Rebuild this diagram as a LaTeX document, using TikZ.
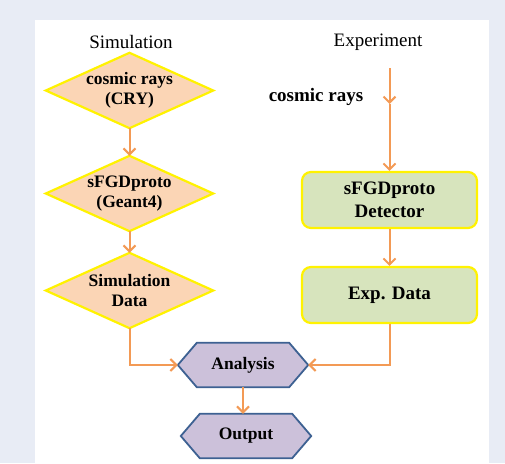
\documentclass[tikz,border=0pt]{standalone}
\usepackage{fontspec}
\setmainfont{Liberation Serif}
\usetikzlibrary{arrows.meta}
\definecolor{bgblue}{HTML}{E8ECF5}
\definecolor{peach}{HTML}{FBD5B5}
\definecolor{olivelt}{HTML}{D7E4BD}
\definecolor{lavender}{HTML}{CCC1DA}
\definecolor{hexblue}{HTML}{3D6192}
\definecolor{arrowor}{HTML}{F39A55}
\definecolor{yel}{HTML}{FFF200}
\pgfdeclarelayer{back}
\pgfdeclarelayer{bg}
\pgfsetlayers{back,bg,main}
\tikzset{
  title/.style={font=\fontsize{19}{22}\selectfont},
  dtext/.style={shape=rectangle, minimum width=167pt, minimum height=75pt, inner sep=0pt, align=center, font=\bfseries\fontsize{17.5}{20}\selectfont},
  dshape/.style={fill=peach, draw=yel, line width=2.2pt, line join=miter},
  gbox/.style={shape=rectangle, rounded corners=9pt, fill=olivelt, draw=yel, line width=2.2pt, minimum width=175pt, minimum height=56pt, inner sep=0pt, align=center, font=\bfseries\fontsize{19}{23}\selectfont},
  htext/.style={shape=rectangle, minimum width=130pt, minimum height=44pt, inner sep=0pt, font=\bfseries\fontsize{17.5}{20}\selectfont},
  hshape/.style={fill=lavender, draw=hexblue, line width=1.8pt, line join=miter},
  arr/.style={draw=arrowor, line width=2pt, -{Straight Barb[length=6pt,width=12pt]}},
}
\begin{document}
\begin{tikzpicture}[x=1pt,y=-1pt]
\useasboundingbox (0,0) rectangle (505,463);
\begin{pgfonlayer}{back}
\fill[bgblue] (0,0) rectangle (505,463);
\fill[white] (35,20) rectangle (489,463);
\end{pgfonlayer}

\node[title] (simt) at (131,42) {Simulation};
\node[title] (expt) at (378,42) {Experiment};

\node[dtext] (d1) at (129.5,90.5) {cosmic rays\\(CRY)};
\node[dtext] (d2) at (129.5,193.5) {sFGDproto\\(Geant4)};
\node[dtext] (d3) at (129.5,290.5) {Simulation\\Data};

\node[font=\bfseries\fontsize{19}{22}\selectfont] (cr) at (316,97) {cosmic rays};
\coordinate (ctop) at (389.5,68);
\coordinate (cmid) at (389.5,104);

\node[gbox] (g1) at (389.5,200) {sFGDproto\\Detector};
\node[gbox] (g2) at (389.5,295) {Exp. Data};

\node[htext] (an) at (243,365) {Analysis};
\node[htext] (out) at (246,436) {Output};

\begin{pgfonlayer}{bg}
\foreach \d in {d1,d2,d3}{
  \filldraw[dshape] (\d.north) -- (\d.east) -- (\d.south) -- (\d.west) -- cycle;
}
\foreach \h in {an,out}{
  \filldraw[hshape] (\h.west) -- ([xshift=19pt]\h.north west) -- ([xshift=-19pt]\h.north east) -- (\h.east) -- ([xshift=-19pt]\h.south east) -- ([xshift=19pt]\h.south west) -- cycle;
}
\end{pgfonlayer}

\draw[arr] (d1.south) -- (d2.north);
\draw[arr] (d2.south) -- (d3.north);
\draw[arr] (d3.south) |- (an.west);
\draw[arr] (g2.south) |- (an.east);
\draw[arr] (an.south) -- (an.south |- out.north);
\draw[arr] (ctop) -- (cmid);
\draw[arr] (cmid) -- (g1.north);
\draw[arr] (g1.south) -- (g2.north);
\end{tikzpicture}
\end{document}
